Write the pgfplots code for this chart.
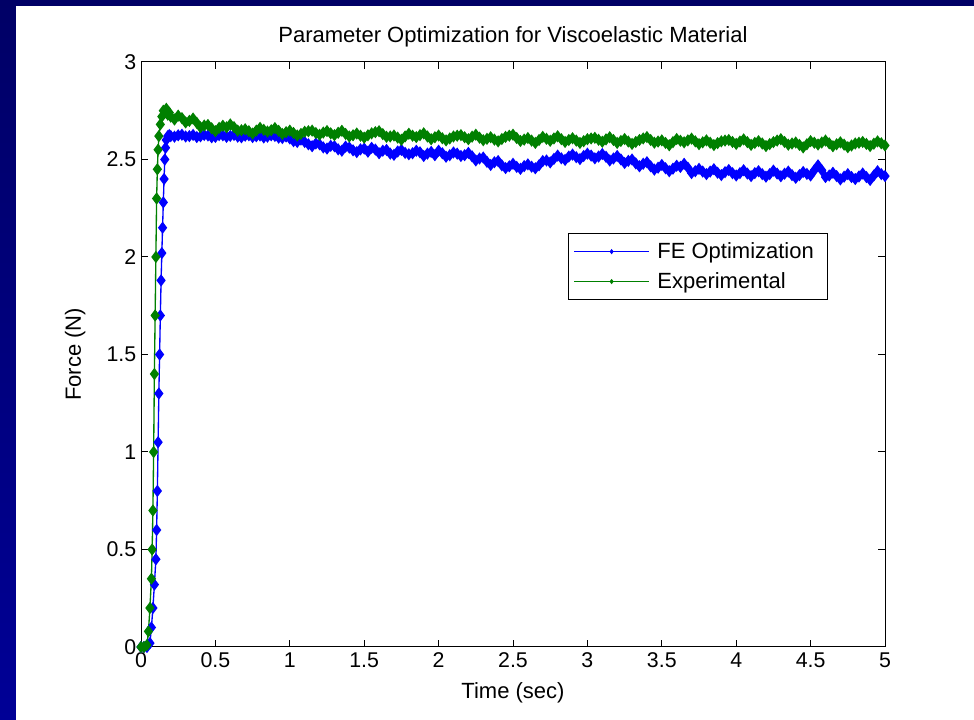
\documentclass[border=0pt]{standalone}
\usepackage{fontspec}
\setmainfont{Liberation Sans}
\usepackage{pgfplots}
\pgfplotsset{compat=1.18}
\definecolor{slidetop}{HTML}{000066}
\definecolor{slidebot}{HTML}{000096}
\definecolor{feblue}{HTML}{0000FF}
\definecolor{expgreen}{HTML}{008000}
\newcommand{\lblfont}{\fontsize{16.5}{19}\selectfont}
\newcommand{\tickfont}{\fontsize{16}{19}\selectfont}

\begin{document}
\begin{tikzpicture}[x=0.75pt,y=0.75pt]
\useasboundingbox (0,0) rectangle (974,720);
\shade[top color=slidetop,bottom color=slidebot] (0,0) rectangle (974,720);
\fill[white] (16,0) rectangle (974,714);
\begin{axis}[
  at={(105.75pt,54.75pt)}, anchor=south west,
  width=558pt, height=438.75pt, scale only axis,
  xmin=0, xmax=5, ymin=0, ymax=3,
  xtick={0,0.5,...,5}, ytick={0,0.5,...,3},
  axis line style={line width=0.75pt},
  tick style={line width=0.75pt,black},
  major tick length=5.25pt,
  tick align=inside,
  /pgf/number format/assume math mode=true,
  ticklabel style={font=\tickfont},
  xticklabel style={yshift=-1pt},
  label style={font=\lblfont},
  xlabel={Time (sec)},
  ylabel={Force (N)},
  xlabel style={yshift=-4pt},
  ylabel style={yshift=9pt},
  title={Parameter Optimization for Viscoelastic Material},
  title style={font=\lblfont,yshift=2pt},
  legend cell align=left,
  legend style={at={(0.574,0.708)}, anchor=north west, draw=black,
    line width=0.75pt, font=\lblfont, inner xsep=4pt, inner ysep=5pt,
    row sep=5pt, nodes={inner xsep=6pt}},
  legend image code/.code={%
    \draw[mark repeat=2,mark phase=2,mark size=1.5pt,line width=0.6pt]
      plot coordinates {(0pt,0pt) (28pt,0pt) (56pt,0pt)};},
]
% FE Optimization
\addplot[color=feblue, line width=1pt, mark=diamond*, mark size=3.8pt] coordinates {
(0,0) (0.02,0) (0.04,0) (0.06,0.02) (0.07,0.1) (0.08,0.2) (0.09,0.32)
(0.1,0.45) (0.105,0.6) (0.11,0.8) (0.115,1.05) (0.12,1.3) (0.125,1.5)
(0.13,1.7) (0.135,1.88) (0.14,2.02) (0.145,2.15) (0.15,2.28) (0.155,2.4)
(0.16,2.5) (0.165,2.56) (0.17,2.6) (0.18,2.62) (0.19,2.625)
(0.20,2.620) (0.225,2.617) (0.25,2.624) (0.275,2.627) (0.30,2.618) (0.325,2.620)
(0.35,2.626) (0.375,2.615) (0.40,2.619) (0.425,2.626) (0.45,2.623) (0.475,2.614)
(0.50,2.616) (0.525,2.625) (0.55,2.624) (0.575,2.616) (0.60,2.621) (0.625,2.626)
(0.65,2.617) (0.675,2.614) (0.70,2.622) (0.725,2.624) (0.75,2.615) (0.775,2.619)
(0.80,2.623) (0.825,2.613) (0.85,2.617) (0.875,2.624) (0.90,2.621) (0.925,2.612)
(0.95,2.610) (0.975,2.618) (1.00,2.608) (1.025,2.594) (1.05,2.590) (1.075,2.602)
(1.10,2.590) (1.125,2.578) (1.15,2.568) (1.175,2.582) (1.20,2.578) (1.225,2.562)
(1.25,2.556) (1.275,2.570) (1.30,2.568) (1.325,2.552) (1.35,2.545) (1.375,2.566)
(1.40,2.561) (1.425,2.547) (1.45,2.538) (1.475,2.552) (1.50,2.556) (1.525,2.540)
(1.55,2.560) (1.575,2.551) (1.60,2.532) (1.625,2.545) (1.65,2.549) (1.675,2.530)
(1.70,2.524) (1.725,2.541) (1.75,2.549) (1.775,2.534) (1.80,2.527) (1.825,2.532)
(1.85,2.545) (1.875,2.537) (1.90,2.518) (1.925,2.530) (1.95,2.539) (1.975,2.522)
(2.00,2.545) (2.025,2.532) (2.05,2.514) (2.075,2.522) (2.10,2.536) (2.125,2.530)
(2.15,2.518) (2.175,2.522) (2.20,2.534) (2.225,2.516) (2.25,2.495) (2.275,2.505)
(2.30,2.510) (2.325,2.488) (2.35,2.472) (2.375,2.486) (2.40,2.492) (2.425,2.470)
(2.45,2.456) (2.475,2.465) (2.50,2.478) (2.525,2.462) (2.55,2.452) (2.575,2.466)
(2.60,2.475) (2.625,2.463) (2.65,2.455) (2.675,2.470) (2.70,2.492) (2.725,2.495)
(2.75,2.485) (2.775,2.503) (2.80,2.520) (2.825,2.506) (2.85,2.498) (2.875,2.515)
(2.90,2.525) (2.925,2.512) (2.95,2.502) (2.975,2.518) (3.00,2.530) (3.025,2.520)
(3.05,2.506) (3.075,2.515) (3.10,2.528) (3.125,2.514) (3.15,2.495) (3.175,2.505)
(3.20,2.518) (3.225,2.500) (3.25,2.482) (3.275,2.493) (3.30,2.500) (3.325,2.480)
(3.35,2.465) (3.375,2.478) (3.40,2.486) (3.425,2.465) (3.45,2.448) (3.475,2.458)
(3.50,2.472) (3.525,2.455) (3.55,2.440) (3.575,2.453) (3.60,2.468) (3.625,2.462)
(3.65,2.478) (3.675,2.458) (3.70,2.430) (3.725,2.440) (3.75,2.452) (3.775,2.438)
(3.80,2.425) (3.825,2.438) (3.85,2.450) (3.875,2.432) (3.90,2.420) (3.925,2.435)
(3.95,2.446) (3.975,2.430) (4.00,2.418) (4.025,2.430) (4.05,2.445) (4.075,2.428)
(4.10,2.415) (4.125,2.430) (4.15,2.440) (4.175,2.425) (4.20,2.412) (4.225,2.425)
(4.25,2.443) (4.275,2.428) (4.30,2.414) (4.325,2.427) (4.35,2.438) (4.375,2.420)
(4.40,2.406) (4.425,2.420) (4.45,2.436) (4.475,2.426) (4.50,2.418) (4.525,2.445)
(4.55,2.470) (4.575,2.445) (4.60,2.410) (4.625,2.418) (4.65,2.432) (4.675,2.415)
(4.70,2.398) (4.725,2.412) (4.75,2.425) (4.775,2.410) (4.80,2.400) (4.825,2.413)
(4.85,2.428) (4.875,2.410) (4.90,2.395) (4.925,2.418) (4.95,2.440) (4.975,2.425)
(5.00,2.415)
};
\addlegendentry{FE Optimization}
% Experimental
\addplot[color=expgreen, line width=1pt, mark=diamond*, mark size=3.8pt] coordinates {
(0,0) (0.02,0) (0.04,0.01) (0.05,0.08) (0.06,0.2) (0.07,0.35) (0.075,0.5)
(0.08,0.7) (0.085,1.0) (0.09,1.4) (0.095,1.7) (0.1,2.0) (0.105,2.3)
(0.11,2.45) (0.115,2.55) (0.12,2.62) (0.13,2.68) (0.14,2.72) (0.15,2.75)
(0.16,2.74) (0.17,2.76) (0.18,2.73) (0.19,2.74)
(0.20,2.720) (0.225,2.705) (0.25,2.725) (0.275,2.712) (0.30,2.690) (0.325,2.698)
(0.35,2.710) (0.375,2.688) (0.40,2.665) (0.425,2.674) (0.45,2.677) (0.475,2.660)
(0.50,2.645) (0.525,2.662) (0.55,2.673) (0.575,2.665) (0.60,2.680) (0.625,2.666)
(0.65,2.648) (0.675,2.650) (0.70,2.655) (0.725,2.645) (0.75,2.633) (0.775,2.648)
(0.80,2.662) (0.825,2.652) (0.85,2.643) (0.875,2.650) (0.90,2.661) (0.925,2.647)
(0.95,2.631) (0.975,2.640) (1.00,2.648) (1.025,2.636) (1.05,2.623) (1.075,2.631)
(1.10,2.642) (1.125,2.645) (1.15,2.648) (1.175,2.636) (1.20,2.627) (1.225,2.638)
(1.25,2.646) (1.275,2.634) (1.30,2.625) (1.325,2.637) (1.35,2.647) (1.375,2.631)
(1.40,2.618) (1.425,2.624) (1.45,2.633) (1.475,2.622) (1.50,2.612) (1.525,2.624)
(1.55,2.634) (1.575,2.640) (1.60,2.645) (1.625,2.630) (1.65,2.616) (1.675,2.618)
(1.70,2.623) (1.725,2.612) (1.75,2.601) (1.775,2.618) (1.80,2.632) (1.825,2.622)
(1.85,2.615) (1.875,2.625) (1.90,2.634) (1.925,2.618) (1.95,2.604) (1.975,2.614)
(2.00,2.623) (2.025,2.609) (2.05,2.598) (2.075,2.608) (2.10,2.618) (2.125,2.622)
(2.15,2.625) (2.175,2.614) (2.20,2.604) (2.225,2.617) (2.25,2.627) (2.275,2.612)
(2.30,2.599) (2.325,2.606) (2.35,2.614) (2.375,2.602) (2.40,2.593) (2.425,2.605)
(2.45,2.616) (2.475,2.622) (2.50,2.627) (2.525,2.610) (2.55,2.595) (2.575,2.602)
(2.60,2.610) (2.625,2.597) (2.65,2.585) (2.675,2.600) (2.70,2.616) (2.725,2.606)
(2.75,2.596) (2.775,2.608) (2.80,2.619) (2.825,2.604) (2.85,2.590) (2.875,2.600)
(2.90,2.609) (2.925,2.597) (2.95,2.585) (2.975,2.594) (3.00,2.604) (3.025,2.608)
(3.05,2.611) (3.075,2.601) (3.10,2.591) (3.125,2.603) (3.15,2.614) (3.175,2.600)
(3.20,2.585) (3.225,2.595) (3.25,2.605) (3.275,2.592) (3.30,2.580) (3.325,2.590)
(3.35,2.600) (3.375,2.608) (3.40,2.615) (3.425,2.600) (3.45,2.586) (3.475,2.592)
(3.50,2.598) (3.525,2.585) (3.55,2.573) (3.575,2.589) (3.60,2.605) (3.625,2.596)
(3.65,2.588) (3.675,2.598) (3.70,2.607) (3.725,2.593) (3.75,2.579) (3.775,2.588)
(3.80,2.598) (3.825,2.586) (3.85,2.574) (3.875,2.584) (3.90,2.593) (3.925,2.597)
(3.95,2.600) (3.975,2.590) (4.00,2.580) (4.025,2.592) (4.05,2.603) (4.075,2.589)
(4.10,2.575) (4.125,2.585) (4.15,2.594) (4.175,2.582) (4.20,2.569) (4.225,2.579)
(4.25,2.589) (4.275,2.597) (4.30,2.604) (4.325,2.590) (4.35,2.576) (4.375,2.582)
(4.40,2.587) (4.425,2.575) (4.45,2.562) (4.475,2.578) (4.50,2.594) (4.525,2.586)
(4.55,2.577) (4.575,2.587) (4.60,2.597) (4.625,2.583) (4.65,2.568) (4.675,2.578)
(4.70,2.588) (4.725,2.576) (4.75,2.563) (4.775,2.572) (4.80,2.582) (4.825,2.586)
(4.85,2.590) (4.875,2.580) (4.90,2.569) (4.925,2.581) (4.95,2.593) (4.975,2.583)
(5.00,2.572)
};
\addlegendentry{Experimental}
\end{axis}
\end{tikzpicture}
\end{document}
